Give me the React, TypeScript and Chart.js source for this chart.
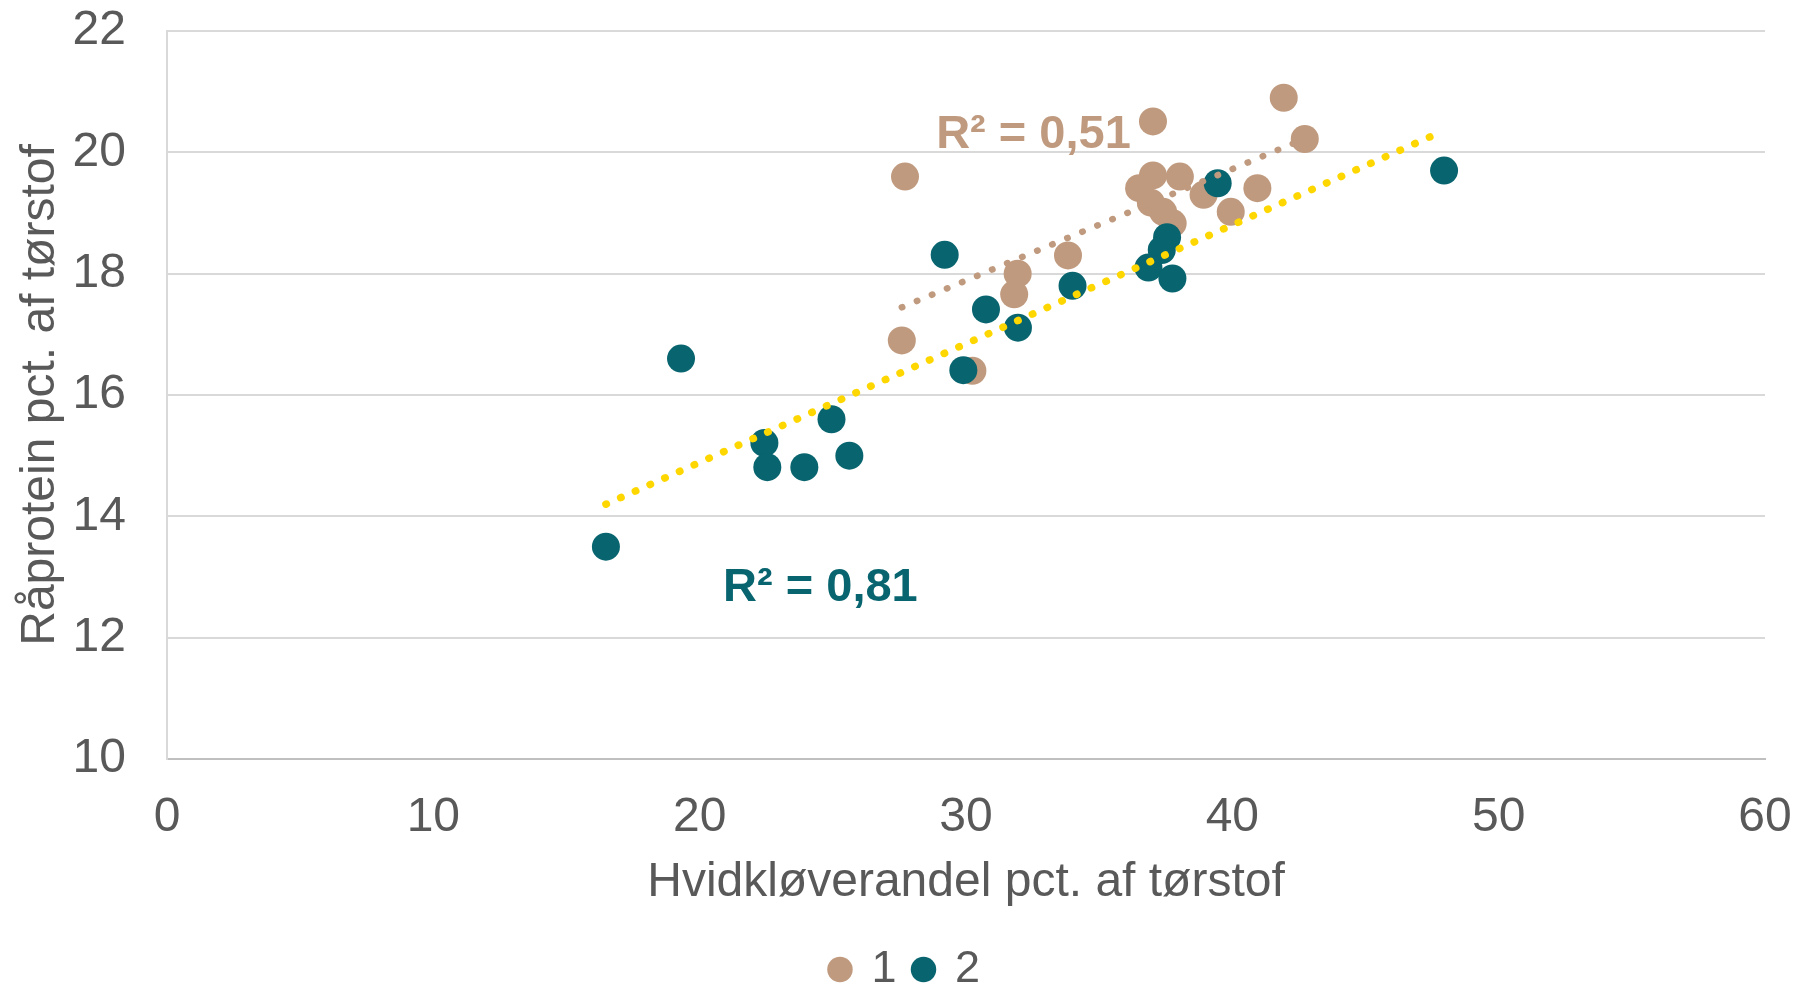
import React, { useEffect, useRef } from "react";
import { Chart, registerables } from "chart.js";

Chart.register(...registerables);

const FONT = "'Liberation Sans', Arial, Helvetica, sans-serif";
const TEXT = "#595959";

// Series "1" (tan)
const series1X = [41.93, 37.02, 42.72, 27.71, 37.02, 38.03, 36.5, 40.94, 36.94, 38.92, 39.94, 37.4, 37.76, 33.83, 31.94, 31.81, 27.59, 30.24];
const series1Y = [20.9, 20.51, 20.22, 19.6, 19.62, 19.6, 19.41, 19.41, 19.17, 19.3, 19.02, 19.02, 18.83, 18.3, 18.0, 17.66, 16.9, 16.4];

// Series "2" (teal)
const series2X = [47.95, 39.45, 37.55, 37.35, 36.85, 37.75, 29.2, 34.0, 30.75, 31.95, 29.9, 19.3, 24.95, 22.43, 22.54, 23.93, 25.62, 16.48];
const series2Y = [19.7, 19.49, 18.6, 18.39, 18.1, 17.92, 18.31, 17.8, 17.41, 17.11, 16.41, 16.6, 15.6, 15.21, 14.81, 14.81, 15.0, 13.5];

const seriesNames = ["1", "2"];

// R² annotation labels (positions in data units)
const r2Labels = ["R² = 0,51", "R² = 0,81"];
const r2LabelX = [28.88, 20.88];
const r2LabelY = [20.28, 12.82];

const xTitle = "Hvidkløverandel pct. af tørstof";
const yTitle = "Råprotein pct. af tørstof";

const TAN = "#C09A7E";
const TEAL = "#08656F";
const YELLOW = "#FFD700";

function toPoints(xs: number[], ys: number[]) {
  return xs.map((x, i) => ({ x, y: ys[i] }));
}

function linearTrend(xs: number[], ys: number[]) {
  const n = xs.length;
  const mx = xs.reduce((a, b) => a + b, 0) / n;
  const my = ys.reduce((a, b) => a + b, 0) / n;
  let sxy = 0;
  let sxx = 0;
  for (let i = 0; i < n; i++) {
    sxy += (xs[i] - mx) * (ys[i] - my);
    sxx += (xs[i] - mx) * (xs[i] - mx);
  }
  const b = sxy / sxx;
  const a = my - b * mx;
  const minX = Math.min(...xs);
  const maxX = Math.max(...xs);
  return [
    { x: minX, y: a + b * minX },
    { x: maxX, y: a + b * maxX },
  ];
}

export default function App() {
  const ref = useRef<HTMLCanvasElement>(null);

  useEffect(() => {
    if (!ref.current) return;
    const labelColors = [TAN, TEAL];
    const labelPlugin = {
      id: "r2labels",
      afterDatasetsDraw(chart: any) {
        const { ctx } = chart;
        const xs = chart.scales.x;
        const ys = chart.scales.y;
        ctx.save();
        ctx.font = `bold 47px ${FONT}`;
        ctx.textBaseline = "middle";
        ctx.textAlign = "left";
        r2Labels.forEach((t, i) => {
          ctx.fillStyle = labelColors[i];
          ctx.fillText(t, xs.getPixelForValue(r2LabelX[i]), ys.getPixelForValue(r2LabelY[i]));
        });
        ctx.restore();
      },
    };

    const chart = new Chart(ref.current, {
      type: "scatter",
      data: {
        datasets: [
          {
            label: seriesNames[0],
            data: toPoints(series1X, series1Y),
            backgroundColor: TAN,
            borderColor: TAN,
            borderWidth: 0,
            pointRadius: 14,
            pointHoverRadius: 14,
            order: 3,
          },
          {
            label: seriesNames[1],
            data: toPoints(series2X, series2Y),
            backgroundColor: TEAL,
            borderColor: TEAL,
            borderWidth: 0,
            pointRadius: 14,
            pointHoverRadius: 14,
            order: 2,
          },
          {
            label: "trend1",
            data: linearTrend(series1X, series1Y),
            showLine: true,
            pointRadius: 0,
            borderColor: TAN,
            backgroundColor: TAN,
            borderWidth: 6.5,
            borderDash: [0.5, 15.8],
            borderCapStyle: "round",
            order: 1,
          } as any,
          {
            label: "trend2",
            data: linearTrend(series2X, series2Y),
            showLine: true,
            pointRadius: 0,
            borderColor: YELLOW,
            backgroundColor: YELLOW,
            borderWidth: 7.5,
            borderDash: [0.5, 15.6],
            borderCapStyle: "round",
            order: 0,
          } as any,
        ],
      },
      options: {
        animation: false,
        responsive: true,
        maintainAspectRatio: false,
        devicePixelRatio: 1,
        layout: { padding: { top: 0, right: 0, left: 15, bottom: 0 } },
        plugins: {
          tooltip: { enabled: false },
          legend: {
            display: true,
            position: "bottom",
            labels: {
              filter: (item: any) => item.datasetIndex < 2,
              sort: (a: any, b: any) => a.datasetIndex - b.datasetIndex,
              usePointStyle: true,
              pointStyle: "circle",
              boxWidth: 18,
              boxHeight: 18,
              padding: 18,
              color: TEXT,
              font: { family: FONT, size: 45 },
            },
          },
        },
        scales: {
          x: {
            type: "linear",
            min: 0,
            max: 60,
            ticks: {
              stepSize: 10,
              color: TEXT,
              padding: 30,
              font: { family: FONT, size: 48 },
            },
            grid: { display: false, drawTicks: false },
            border: { display: true, color: "#BFBFBF", width: 2 },
            title: {
              display: true,
              text: xTitle,
              color: TEXT,
              font: { family: FONT, size: 48 },
              padding: { top: 0, bottom: 17 },
            },
            afterFit: (scale: any) => {
              scale.height = 170;
              scale.paddingLeft = 0;
              scale.paddingRight = 31;
            },
          },
          y: {
            type: "linear",
            min: 10,
            max: 22,
            ticks: {
              stepSize: 2,
              color: TEXT,
              padding: 41,
              font: { family: FONT, size: 48 },
            },
            grid: { color: "#D9D9D9", lineWidth: 2, drawTicks: false },
            border: { display: true, color: "#D9D9D9", width: 2 },
            title: {
              display: true,
              text: yTitle,
              color: TEXT,
              font: { family: FONT, size: 48 },
              padding: { top: -3, bottom: 0 },
            },
            afterFit: (scale: any) => {
              scale.width = 152;
              scale.paddingTop = 31;
              scale.paddingBottom = 0;
            },
          },
        },
      } as any,
      plugins: [labelPlugin],
    });

    return () => chart.destroy();
  }, []);

  return (
    <div
      style={{
        position: "fixed",
        left: 0,
        top: 0,
        width: "1796px",
        height: "1002px",
        background: "#ffffff",
      }}
    >
      <canvas ref={ref} />
    </div>
  );
}
